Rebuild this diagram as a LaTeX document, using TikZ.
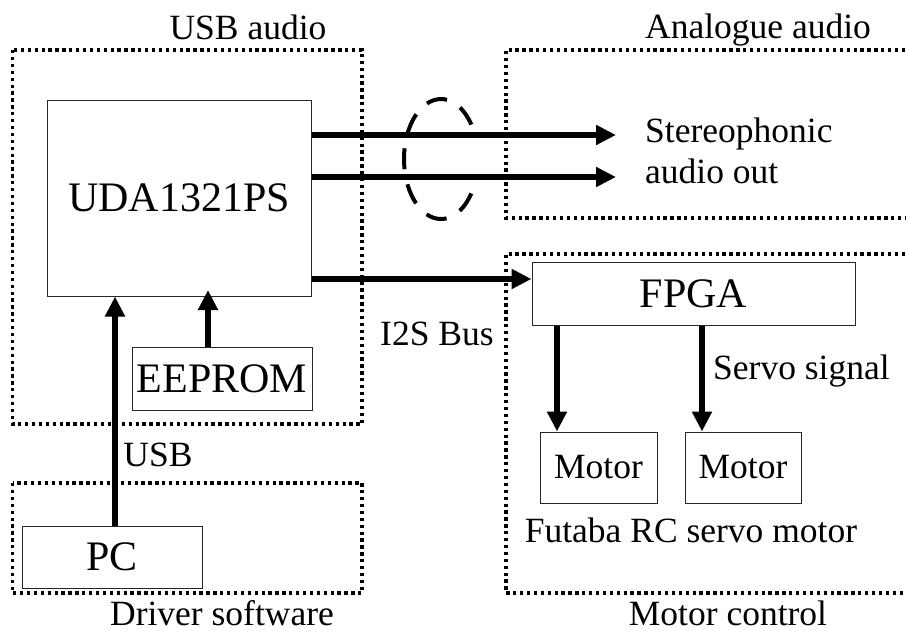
\documentclass[tikz,border=0pt]{standalone}
\usepackage{fontspec}
\setmainfont{Liberation Serif}
\usetikzlibrary{arrows.meta,calc}

\begin{document}
\begin{tikzpicture}[x=1pt,y=-1pt,
  blockbox/.style={draw=black!85,line width=1pt,inner sep=0pt,
    font=\fontsize{42}{48}\selectfont},
  motorbox/.style={blockbox,font=\fontsize{35.5}{41}\selectfont},
  grp/.style={line width=3.3pt,dash pattern=on 3.3pt off 3.6pt},
  lbl/.style={inner sep=0pt,font=\fontsize{35.5}{41}\selectfont},
  sig/.style={line width=5.5pt,-{Triangle[length=20pt,width=19pt]}},
  bundle/.style={line width=4pt,dash pattern=on 21pt off 15.3pt}]
\useasboundingbox (0,0) rectangle (906,630);

% dotted group frames
\draw[grp] (12.7,50) rectangle (362,424);
\draw[grp] (12.7,483) rectangle (362,593);
\draw[grp] (912,50) -- (506,50) -- (506,218) -- (912,218);
\draw[grp] (912,254) -- (506,254) -- (506,593) -- (912,593);

% group titles
\node[lbl,anchor=base] (tusb) at (248,39) {USB audio};
\node[lbl,anchor=base] (tana) at (758,38) {Analogue audio};
\node[lbl,anchor=base] (tdrv) at (222,625) {Driver software};
\node[lbl,anchor=base] (tmot) at (728,625) {Motor control};

% blocks
\node[blockbox,minimum width=264pt,minimum height=196pt] (uda) at (179,198) {UDA1321PS};
\node[blockbox,minimum width=180pt,minimum height=63pt] (eeprom) at (222,378.5) {EEPROM};
\node[blockbox,minimum width=180pt,minimum height=62pt] (pc) at (112,557) {PC};
\node[blockbox,minimum width=323pt,minimum height=63pt] (fpga) at (693.5,293.5) {FPGA};
\node[motorbox,minimum width=117pt,minimum height=71pt] (m1) at (598.5,467.5) {Motor};
\node[motorbox,minimum width=116pt,minimum height=71pt] (m2) at (743,467.5) {Motor};

% connector lanes
\coordinate (usbx) at (115,0);
\coordinate (epx) at (208,290);
\coordinate (outL) at (616,135);
\coordinate (outR) at (616,177);
\coordinate (i2s) at (0,279);
\coordinate (s1) at (557,0);
\coordinate (s2) at (702,0);

% signals
\draw[sig] (pc.north -| usbx) -- (uda.south -| usbx);
\draw[sig] (eeprom.north -| epx) -- (epx);
\draw[sig] (uda.east |- outL) -- (outL);
\draw[sig] (uda.east |- outR) -- (outR);
\draw[sig] (uda.east |- i2s) -- (fpga.west |- i2s);
\draw[sig] (fpga.south -| s1) -- (m1.north -| s1);
\draw[sig] (fpga.south -| s2) -- (m2.north -| s2);

% stereo pair marker, open where the two lines leave it
\coordinate (ellc) at (441,159);
\draw[bundle] (ellc) ++(35:37 and 60) arc[start angle=35,end angle=325,x radius=37,y radius=60];

% signal labels
\node[lbl,anchor=base west] (tst1) at (645,142) {Stereophonic};
\node[lbl,anchor=base west] (tst2) at (645,183) {audio out};
\node[lbl,anchor=base] (tusbl) at (158,466) {USB};
\node[lbl,anchor=base west] (ti2s) at (380,345) {I2S Bus};
\node[lbl,anchor=base west] (tservo) at (713,379) {Servo signal};
\node[lbl,anchor=base] (tfut) at (691,542) {Futaba RC servo motor};
\end{tikzpicture}
\end{document}
